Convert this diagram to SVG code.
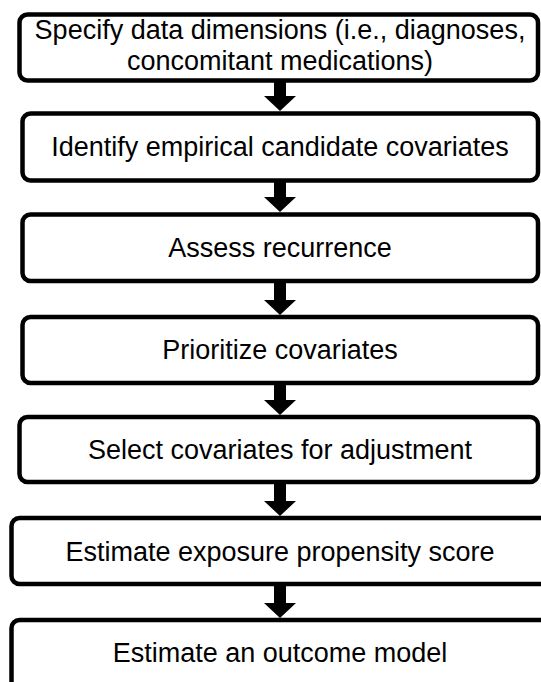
<svg xmlns="http://www.w3.org/2000/svg" width="541" height="682" viewBox="0 0 541 682">
<style>
.box{fill:#fff;stroke:#000;stroke-width:4.5}
.t{font-family:"Liberation Sans",Arial,sans-serif;font-size:27px;fill:#000;text-anchor:middle}
.arr{fill:#000}
</style>
<rect width="541" height="682" fill="#fff"/>
<g id="connectors">
<path class="arr" d="M274,82 h12 v14 h10 l-16,15 l-16,-15 h10 z"/>
<path class="arr" d="M274,182 h12 v15 h10 l-16,15 l-16,-15 h10 z"/>
<path class="arr" d="M274,282 h12 v18 h10 l-16,15 l-16,-15 h10 z"/>
<path class="arr" d="M274,384 h12 v16 h10 l-16,15 l-16,-15 h10 z"/>
<path class="arr" d="M274,483 h12 v18 h10 l-16,15 l-16,-15 h10 z"/>
<path class="arr" d="M274,585 h12 v18 h10 l-16,15 l-16,-15 h10 z"/>
</g>
<g id="n1"><rect class="box" x="19.5" y="14.5" width="518.5" height="66" rx="8"/>
<text class="t" x="280" y="39">Specify data dimensions (i.e., diagnoses,</text>
<text class="t" x="280" y="70">concomitant medications)</text></g>
<g id="n2"><rect class="box" x="22.5" y="113.5" width="515.5" height="67" rx="8"/>
<text class="t" x="280" y="156">Identify empirical candidate covariates</text></g>
<g id="n3"><rect class="box" x="22.5" y="214.5" width="515.5" height="66.5" rx="8"/>
<text class="t" x="280" y="257">Assess recurrence</text></g>
<g id="n4"><rect class="box" x="22.5" y="317" width="515.5" height="66" rx="8"/>
<text class="t" x="280" y="359">Prioritize covariates</text></g>
<g id="n5"><rect class="box" x="19.5" y="417" width="518.5" height="65" rx="8"/>
<text class="t" x="280" y="459">Select covariates for adjustment</text></g>
<g id="n6"><rect class="box" x="11.5" y="518" width="540" height="66" rx="8"/>
<text class="t" x="280" y="561">Estimate exposure propensity score</text></g>
<g id="n7"><rect class="box" x="11.5" y="620" width="540" height="80" rx="8"/>
<text class="t" x="280" y="662">Estimate an outcome model</text></g>
</svg>
